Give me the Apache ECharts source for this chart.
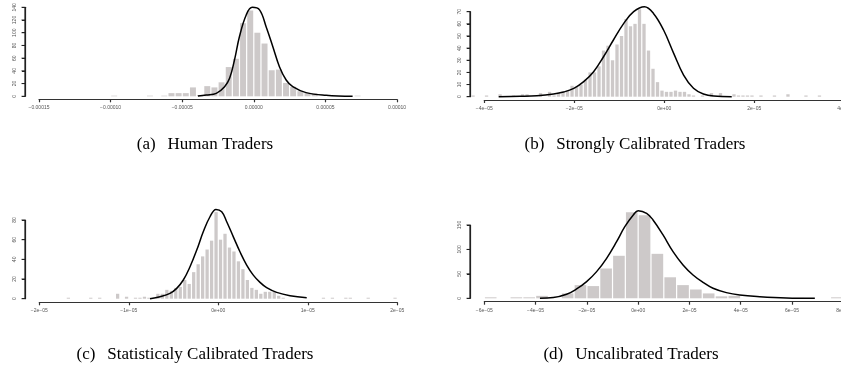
<!DOCTYPE html>
<html><head><meta charset="utf-8">
<script src="https://cdn.jsdelivr.net/npm/echarts@6/dist/echarts.min.js"></script>
<style>html,body{margin:0;padding:0;background:#fff}#c{width:841px;height:369px}</style>
</head><body><div id="c"></div>
<script>
// x values are in units of 1e-6

// (a) Human Traders
const aBinWidth = 5;
const aBinStart = [-100,-75,-65,-60,-55,-50,-45,-40,-35,-30,-25,-20,-15,-10,-5,0,5,10,15,20,25,30,35,40,70];
const aCounts   = [1,1,1,5,5,5,14,2,16,14,22,46,59,115,135,100,83,41,42,21,15,8,5,5,1];
const aCurveX   = [-39,-33.2,-26.2,-20.4,-16.9,-13.5,-10,-5.3,-1.1,4,8.6,13.3,17.9,22.6,27.2,36.5,50.5,69];
const aCurveY   = [0.5,2.1,4.7,15.2,28.3,57,94,128,140,136,109.5,78,46.6,25.7,15.2,5.8,1.6,0];
const aXTicks   = ['\u22120.00015','\u22120.00010','\u22120.00005','0.00000','0.00005','0.00010'];
const aYTicks   = ['0','20','40','60','80','100','120','140'];

// (b) Strongly Calibrated Traders
const bBinWidth = 1;
const bBinStart = [-43,-40,-37,-34,-32,-31,-28,-26,-25,-24,-23,-22,-21,-20,-19,-18,-17,-16,-15,-14,-13,-12,-11,-10,-9,-8,-7,-6,-5,-4,-3,-2,-1,0,1,2,3,4,5,6,8,10,12,15,16,17,18,19,21,24,27,31,34];
const bCounts   = [1,1,2,1,2,2,3,4,1,3,4,5,9,8,10,14,20,20,25,38,42,30,43,50,64,58,60,72,60,38,23,12,5,4,4,5,4,4,2,1,1,3,3,2,1,1,1,1,1,1,2,1,1];
const bCurveX   = [-36.8,-32,-28.3,-24.6,-22.4,-20.1,-17.9,-15.7,-13.5,-11.3,-9,-6.8,-4.4,-2.4,-0.15,2.1,4.3,6.5,8.7,11,15];
const bCurveY   = [0,0.3,0.8,2.2,3.8,6.9,12.4,20.6,32.9,46.7,60.4,70,74,68.6,54.9,35.7,17.8,6.9,2.2,0.5,0];
const bXTicks   = ['\u22124e\u221205','\u22122e\u221205','0e+00','2e\u221205','4e\u221205'];
const bYTicks   = ['0','10','20','30','40','50','60','70'];

// (c) Statisticaly Calibrated Traders
const cBinWidth = 0.5;
const cBinStart = [-17,-14.5,-13.5,-11.5,-10.5,-9.5,-9,-8.5,-8,-7,-6.5,-6,-5.5,-5,-4.5,-4,-3.5,-3,-2.5,-2,-1.5,-1,-0.5,0,0.5,1,1.5,2,2.5,3,3.5,4,4.5,5,5.5,6,6.5,7,11.5,12.5,14,14.5,16.5,19.5];
const cCounts   = [1,1,1,5,2,1,1,2,1,5,5,9,8,11,12,19,15,27,35,43,50,59,88,60,66,52,48,38,30,19,11,9,5,7,7,7,3,1,1,1,1,1,1,1];
const cCurveX   = [-7.63,-6.51,-5.4,-4.65,-3.91,-3.16,-2.41,-1.68,-0.93,-0.26,0.38,0.94,1.68,2.42,3.17,3.91,4.66,5.4,6.52,8.01,9.88];
const cCurveY   = [0,2,5.4,10.5,19,32.5,49.4,68,83.3,90.7,88.3,78.2,62.9,47.7,34.2,24,16.6,11.2,6.4,3,1];
const cXTicks   = ['\u22122e\u221205','\u22121e\u221205','0e+00','1e\u221205','2e\u221205'];
const cYTicks   = ['0','20','40','60','80'];

// (d) Uncalibrated Traders
const dBinWidth = 5;
const dBinStart = [-60,-50,-45,-40,-30,-25,-20,-15,-10,-5,0,5,10,15,20,25,30,35,60,75];
const dCounts   = [2,2,2,5,10,27,25,61,87,176,170,91,43,27,18,10,4,5,1,2];
const dCurveX   = [-38.3,-33.1,-27.9,-24,-20.1,-16.2,-12.3,-8.4,-5.2,-1.9,0,3.3,5.8,9.7,13.6,17.5,21.4,25.3,29.2,34.4,39.6,47.4,57.8,68.9];
const dCurveY   = [0,1.4,8.2,19.1,34.1,54.6,81.8,115.9,146.6,170.5,179.4,174,160.3,129.6,95.5,68.2,47.7,32.7,20.5,11.6,6.8,3.4,0.7,0];
const dXTicks   = ['\u22126e\u221205','\u22124e\u221205','\u22122e\u221205','0e+00','2e\u221205','4e\u221205','6e\u221205','8e\u221205'];
const dYTicks   = ['0','50','100','150'];

const captions = ['(a)\u2002\u2009Human Traders','(b)\u2002\u2009Strongly Calibrated Traders','(c)\u2002\u2009Statisticaly Calibrated Traders','(d)\u2002\u2009Uncalibrated Traders'];

const panels = [
  {bw:aBinWidth, s:aBinStart, n:aCounts, cx:aCurveX, cy:aCurveY, xt:aXTicks, yt:aYTicks, xmin:-150, xint:50, yint:20,
   grid:{left:39, top:7.3, width:358, height:89}, xo:3, yx:25, cap:[200,131]},
  {bw:bBinWidth, s:bBinStart, n:bCounts, cx:bCurveX, cy:bCurveY, xt:bXTicks, yt:bYTicks, xmin:-40, xint:20, yint:10,
   grid:{left:484.3, top:11.7, width:359.9, height:85}, xo:3.3, yx:470, cap:[630,131]},
  {bw:cBinWidth, s:cBinStart, n:cCounts, cx:cCurveX, cy:cCurveY, xt:cXTicks, yt:cYTicks, xmin:-20, xint:10, yint:20,
   grid:{left:39.3, top:220, width:358, height:78.7}, xo:3.6, yx:25, cap:[190,341]},
  {bw:dBinWidth, s:dBinStart, n:dCounts, cx:dCurveX, cy:dCurveY, xt:dXTicks, yt:dYTicks, xmin:-60, xint:20, yint:50,
   grid:{left:484.3, top:225, width:359, height:73.3}, xo:3.4, yx:470, cap:[626,341]}
];

const grids=[], xAxes=[], yAxes=[], series=[], titles=[];
panels.forEach((p,i)=>{
  const xmax = p.xmin + p.xint*(p.xt.length-1);
  const ymax = p.yint*(p.yt.length-1);
  const g = p.grid;
  const pad = g.left - p.yx;
  const xminExt = p.xmin - pad/g.width*(xmax - p.xmin);
  grids.push({containLabel:false, outerBoundsMode:'none', left:p.yx, top:g.top, width:g.width+pad, height:g.height});
  const gm = grids.length-1;
  grids.push({containLabel:false, outerBoundsMode:'none', left:g.left, top:g.top, width:g.width, height:g.height});
  const gx = grids.length-1;

  xAxes.push({type:'value', gridIndex:gm, min:xminExt, max:xmax,
    axisLine:{show:true, onZero:false, lineStyle:{color:'rgba(0,0,0,0)', width:0.01}},
    axisTick:{show:false}, axisLabel:{show:false}, splitLine:{show:false}});
  yAxes.push({type:'value', gridIndex:gm, min:0, max:ymax, interval:p.yint, position:'left',
    axisLine:{show:true, onZero:false, lineStyle:{color:'#222', width:1.2}},
    axisTick:{show:true, length:3, lineStyle:{color:'#222', width:1}},
    splitLine:{show:false},
    axisLabel:{fontSize:5, color:'#555', margin:8, rotate:90, fontFamily:'Liberation Sans',
      formatter:(v)=>p.yt[Math.round(v/p.yint)] || ''}});
  const ai = xAxes.length-1;
  xAxes.push({type:'value', gridIndex:gx, min:p.xmin, max:xmax, interval:p.xint, offset:p.xo, position:'bottom',
    axisLine:{show:true, onZero:false, lineStyle:{color:'#333', width:1.2}},
    axisTick:{show:true, length:3, lineStyle:{color:'#333', width:1.2}},
    splitLine:{show:false},
    axisLabel:{fontSize:5, color:'#555', margin:6, fontFamily:'Liberation Sans',
      formatter:(v)=>p.xt[Math.round((v-p.xmin)/p.xint)] || ''}});
  yAxes.push({type:'value', gridIndex:gx, min:0, max:ymax,
    axisLine:{show:false, onZero:false}, axisTick:{show:false}, axisLabel:{show:false}, splitLine:{show:false}});

  const bars = p.s.map((s,j)=>[s, s+p.bw, p.n[j]]);
  series.push({type:'custom', xAxisIndex:ai, yAxisIndex:ai, clip:false, silent:true, data:bars,
    encode:{x:[0,1], y:2},
    renderItem:(params, api)=>{
      const p0 = api.coord([api.value(0), api.value(2)]);
      const p1 = api.coord([api.value(1), 0]);
      return {type:'rect', shape:{x:p0[0]+0.6, y:p0[1], width:Math.max(0.5,p1[0]-p0[0]-1.2), height:p1[1]-p0[1]},
        style:{fill:'#cdc9c9'}};
    }});
  series.push({type:'line', xAxisIndex:ai, yAxisIndex:ai, clip:false, silent:true, smooth:0.4,
    showSymbol:false, data:p.cx.map((x,j)=>[x, p.cy[j]]),
    lineStyle:{color:'#000', width:1.5}, z:5});
  // y axis spine and its tick marks, placed through the y scale at the tick values
  series.push({type:'line', xAxisIndex:ai, yAxisIndex:ai, clip:false, silent:true, showSymbol:false,
    data:[[xminExt,0],[xminExt,ymax]], lineStyle:{color:'#222', width:1.2}, z:6});
  series.push({type:'custom', xAxisIndex:ai, yAxisIndex:ai, clip:false, silent:true, z:6,
    data:p.yt.map(t=>[xminExt, Number(t)]), encode:{x:0, y:1},
    renderItem:(params, api)=>{
      const c = api.coord([api.value(0), api.value(1)]);
      return {type:'line', shape:{x1:c[0]-3.5, y1:c[1], x2:c[0], y2:c[1]},
        style:{stroke:'#222', lineWidth:1}};
    }});
  titles.push({text:captions[i], left:p.cap[0], top:p.cap[1], textAlign:'center',
    textStyle:{fontFamily:'Liberation Serif', fontSize:17, fontWeight:'normal', color:'#000'}});
});

const chart = echarts.init(document.getElementById('c'), null, {renderer:'canvas'});
chart.setOption({animation:false, backgroundColor:'#fff', title:titles, grid:grids, xAxis:xAxes, yAxis:yAxes, series:series});
</script></body></html>
